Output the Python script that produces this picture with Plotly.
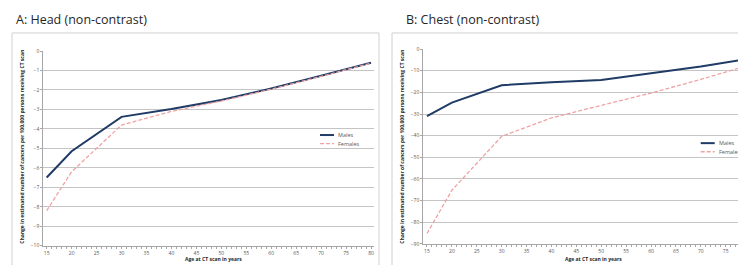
import plotly.graph_objects as go

ages = [15, 20, 30, 40, 50, 60, 70, 80]
head_males = [-6.5, -5.15, -3.38, -2.98, -2.52, -1.92, -1.27, -0.6]
head_females = [-8.2, -6.2, -3.8, -3.1, -2.57, -1.96, -1.3, -0.62]
chest_males = [-31.0, -24.7, -16.7, -15.3, -14.3, -11.3, -8.0, -4.3]
chest_females = [-85.2, -65.2, -40.3, -31.8, -26.0, -20.3, -14.0, -7.2]

panel_titles = ["A: Head (non-contrast)", "B: Chest (non-contrast)"]
y_title = "Change in estimated number of cancers per 100,000 persons receiving CT scan"
x_title = "Age at CT scan in years"
series_names = ["Males", "Females"]

# page body has an 8px default margin; the figure is sized to fill the rest of the window
OFF = 8
W, H = 746 - OFF, 265 - OFF
MALE_C = "#1f3b66"
FEMALE_C = "#f0a3a3"
GRID_C = "#c4c4c4"
TICK_C = "#595959"
FONT = "Open Sans"
MALE_LINE = dict(color=MALE_C, width=2)
FEMALE_LINE = dict(color=FEMALE_C, width=1.3, dash="4px,2px")

def px(x):
    return (x - OFF) / W

def py(y):
    return (H - (y - OFF)) / H

fig = go.Figure()

fig.add_trace(go.Scatter(x=ages, y=head_males, name=series_names[0], mode="lines",
                         line=MALE_LINE, xaxis="x", yaxis="y"))
fig.add_trace(go.Scatter(x=ages, y=head_females, name=series_names[1], mode="lines",
                         line=FEMALE_LINE, xaxis="x", yaxis="y"))
fig.add_trace(go.Scatter(x=ages, y=chest_males, name=series_names[0], mode="lines",
                         line=MALE_LINE, xaxis="x2", yaxis="y2"))
fig.add_trace(go.Scatter(x=ages, y=chest_females, name=series_names[1], mode="lines",
                         line=FEMALE_LINE, xaxis="x2", yaxis="y2"))

xcommon = dict(showgrid=False, zeroline=False, showline=True, linecolor="#a6a6a6", linewidth=1,
               ticks="outside", ticklen=2, tickcolor="#a6a6a6", tick0=0, dtick=5,
               tickfont=dict(size=5, color=TICK_C, family=FONT),
               minor=dict(dtick=1, ticks="outside", ticklen=2, tickcolor="#a6a6a6"))
ycommon = dict(showgrid=True, gridcolor=GRID_C, gridwidth=1.3, zeroline=False, showline=True,
               linecolor="#a6a6a6", linewidth=1, ticks="outside", ticklen=2, tickcolor="#a6a6a6",
               tickfont=dict(size=5, color=TICK_C, family=FONT))

fig.update_layout(
    width=W, height=H, margin=dict(l=0, r=0, t=0, b=0),
    paper_bgcolor="white", plot_bgcolor="white",
    xaxis=dict(domain=[px(43.3), px(373.6)], range=[14.32, 80.52], anchor="y", **xcommon),
    yaxis=dict(domain=[py(248.3), py(49)], range=[-10, 0], dtick=1, anchor="x", **ycommon),
    xaxis2=dict(domain=[px(423.3), 1.0], range=[14.26, 79.08], anchor="y2", **xcommon),
    yaxis2=dict(domain=[py(246.5), py(47)], range=[-90, 0], dtick=10, anchor="x2", **ycommon),
    showlegend=False,
)

# panel boxes
fig.add_shape(type="rect", xref="paper", yref="paper", x0=px(12), x1=px(379), y0=py(275), y1=py(30.5),
              line=dict(color="#d0d0d0", width=1), fillcolor="rgba(0,0,0,0)", layer="below")
fig.add_shape(type="rect", xref="paper", yref="paper", x0=px(392), x1=px(760), y0=py(275), y1=py(30.5),
              line=dict(color="#d0d0d0", width=1), fillcolor="rgba(0,0,0,0)", layer="below")

# legends (one per panel)
legend_pos = [(320, 135), (700.7, 143.3)]
for lx, ly in legend_pos:
    for i, (name, ln) in enumerate(zip(series_names, [MALE_LINE, FEMALE_LINE])):
        yy = ly + i * 8.8
        fig.add_shape(type="line", xref="paper", yref="paper", x0=px(lx), x1=px(lx + 14),
                      y0=py(yy), y1=py(yy), line=ln)
        fig.add_annotation(xref="paper", yref="paper", showarrow=False, text=name,
                           x=px(lx + 17), y=py(yy), xanchor="left", yanchor="middle", borderpad=0,
                           font=dict(size=5.5, color=TICK_C, family=FONT))

annots = [
    dict(text=panel_titles[0], x=px(15), y=py(17), xanchor="left", yanchor="middle",
         font=dict(size=12.5, color="#262626", family=FONT)),
    dict(text=panel_titles[1], x=px(405), y=py(17), xanchor="left", yanchor="middle",
         font=dict(size=12.5, color="#262626", family=FONT)),
    dict(text="<b>" + y_title + "</b>", x=px(22), y=py(147), textangle=-90, xanchor="center", yanchor="middle",
         font=dict(size=5, color="#262626", family=FONT)),
    dict(text="<b>" + y_title + "</b>", x=px(402), y=py(147), textangle=-90, xanchor="center", yanchor="middle",
         font=dict(size=5, color="#262626", family=FONT)),
    dict(text="<b>" + x_title + "</b>", x=px(213), y=py(262), xanchor="center", yanchor="middle",
         font=dict(size=5, color="#262626", family=FONT)),
    dict(text="<b>" + x_title + "</b>", x=px(593), y=py(262), xanchor="center", yanchor="middle",
         font=dict(size=5, color="#262626", family=FONT)),
]
for a in annots:
    fig.add_annotation(xref="paper", yref="paper", showarrow=False, borderpad=0, **a)

fig.write_html("out.html")
